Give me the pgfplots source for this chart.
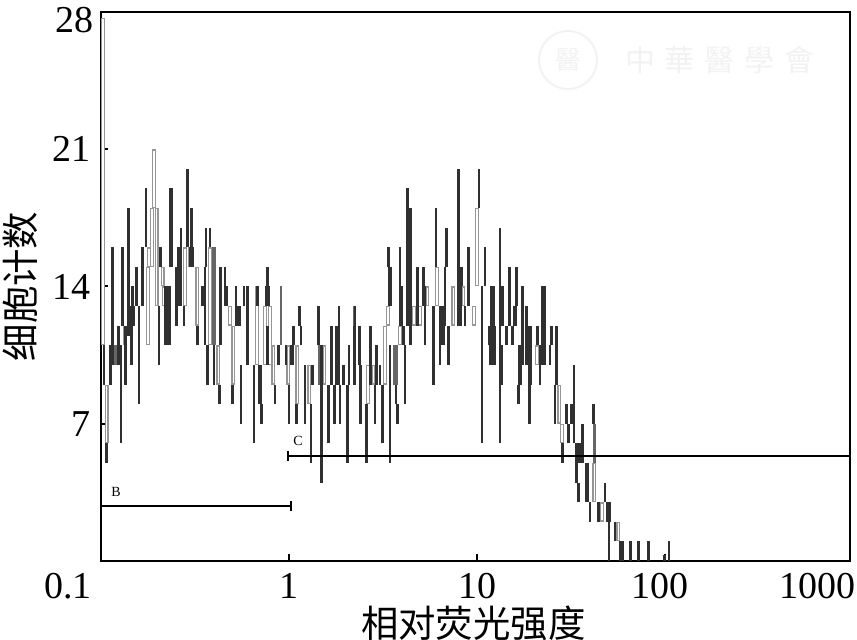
\documentclass[border=0pt]{standalone}
\usepackage{pgfplots}
\usepackage{pgfplotstable}
\usepackage{fontspec}
\pgfplotsset{compat=1.18}
\setmainfont{Liberation Serif}
\newfontfamily\cjk{Noto Sans CJK SC}
\definecolor{dk}{HTML}{303030}
\definecolor{gy}{HTML}{666666}
\definecolor{hl}{HTML}{969696}
\definecolor{wm}{HTML}{F2F2F2}
% x is the position along the 4-decade log axis (101 = 0.1, 289 = 1, 477 = 10, 665 = 100, 850 = 1000)
\pgfplotstableread{
x lo hi
104 9 11
106.7 5 6
110.7 9 11
112.7 10 16
118.3 10 12
121 6 11
122.7 12 16
125.7 9 12
128.3 11.5 18
131.7 10 13
132.7 13 14
132.5 12 13
134 12 13
136.7 13 15
139 8 13
142.3 13 16
146 16 19
159 10 13
160.7 15 16
165 11 14
167.3 11 14
169.7 11 14
170.5 15 19
172 15 19
176.7 12 15
178.5 13 16
180.5 13 16
181 16 17
184 12 13
187.3 16 20
190.5 15 16
192.3 15 16
191.7 16 18
197.3 11 12
202 13 14
204.5 13 14
205 11 15
206 15 17
207.3 9 11
210 16 17
214 9 11
219.3 8 9
220.7 11 15
225 13 15
226.7 13 14
232.7 8 9
236 12 14
237.5 12 13
239.5 12 13
241 7 10
244 13 14
247.7 10 14
254 6 10
257.3 13 14
259 8 10
261 8 10
261.7 7 8
266.5 13 14
268.5 13 14
267.3 14 15
267.3 10 12
275 8 9
278.3 10 11
286 10 11
289 7 9
291 10 11
293 10 11
293.3 11 12
296.5 7 8
299.3 12 13
301 11 12
305 7 10
311 5 8
312.7 9 10
318.3 11 13
321.7 4 11
328.7 6 9
331.7 9 12
334.3 7 9
336.5 9 12
338.5 9 12
339 12 13
340 7 9
343.3 9 10
347.7 5 9
349 9 11
354.3 9 12
355 12 13
359.3 10 12
360.7 7 10
366.7 5 8
370.7 9 12
375 7 9
376.7 9 11
380 9 10
382.7 6 9
388.3 15 16
389 13 15
391 13 15
390 5 11
396 8 9
397.3 7 8
400 12 16
401.7 12 14
403.3 11 12
405 8 11
407.3 12 19
410.7 11 18
417.7 12 15
423.3 13 15
425 11 14
433.3 9 13
436 15 18
440 10 13
441.5 11 13
444 11 13
445 12 15
446.7 15 17
448.3 10 12
458.3 12 20
460 14 15
462 14 15
460.7 12 14
465 12 13
468.7 13 16
479 18 20
482 6 14
485 14 16
489 11 12
490 10 12
491.7 10 14
494 10 14
495 10 12
500 6 17
501.7 9 11
502.3 12 14
506.7 11 12
509.3 12 15
512.7 11 12
514.5 12 13
516 12 13
516.7 13 15
518.3 8 9
519.5 9 11
521 9 11
522.7 10 14
526.7 10 13
529.3 7 9
529 9 12
531 9 12
537.3 11 12
540 9 11
542.5 10 14
544.5 10 14
550 10 11
551.7 11 12
555 7 9
556.7 9 12
562.7 5 6
566.7 7 8
568.3 6 7
571.7 7 8
574 6 10
576.7 4 6
578 5 6
580 5 6
578.3 3 4
582.7 5 7
585.8 3 5
587.6 3 5
590 2 3
593.3 7 8
598.3 2 3
605 3 4
607.5 2 3
609.5 2 3
609 0 2
615 1 2
620.7 0 1
622.7 0 1
630.7 0 1
638.3 0 1
648.3 0 1
664.3 0 0.3
669 0 1
}\tableDark
\pgfplotstableread{
x lo hi
115 10 11
117 10 11
120 10 11
213 11 16
215 11 16
281 11 14
319.3 9 11
354.8 11 13
394 9 11
396.5 9 11
594.3 5 7
}\tableGrey
\pgfplotstableread{
x lo hi
103.3 11 27.7
106.7 6 9
125 11 12
148.3 11 15
149 15 16
152.3 15 18
154 18 21
156.7 13 18
162.7 14 15
164 13 14
185 13 16
190 15 16
197.3 12 15
210 11 16
218.3 9 11
230 12 13
233.3 9 12
256.7 10 14
265 10 13
270 10 13
273.3 9 11
288.3 9 11
297.3 8 11
309.3 8 10
324.3 9 11
368 8 10
373.3 9 10
385 9 12
387.7 12 13
400 11 12
414 12 13
420 12 13
427.3 13 14
436.7 13 15
453.3 12 14
463.3 13 14
474 12 13
476.7 14 18
536.7 10 11
559.3 7 9
561.7 6 7
594.3 3 5
601.7 2 3
618.3 1 2
}\tableHollow
\pgfplotstableread{
x y
101 2.8
291 2.8
}\gateB
\pgfplotstableread{
x y
288 5.36
850 5.36
}\gateC
\begin{document}
\begin{tikzpicture}
\path[use as bounding box] (-50.5pt,-39.5pt) rectangle (378pt,280.5pt);
\begin{axis}[
  scale only axis, width=374.5pt, height=274.5pt,
  xmin=101, xmax=850, ymin=0, ymax=28,
  clip mode=individual,
  axis line style={line width=1pt},
  every tick/.style={black, line width=1pt},
  major tick length=3.5pt,
  tick align=inside,
  xtick pos=bottom, ytick pos=left,
  xtick={101,289,477,665,850},
  xticklabels={\makebox[0pt][r]{0.1\hspace{4.5pt}},1,10,\makebox[0pt][r]{100\hspace{-11.5pt}},\makebox[0pt][r]{1000\hspace{-2.5pt}}},
  ytick={0,7,14,21,28},
  yticklabels={,7,14,21,},
  /pgf/number format/assume math mode=true,
  tick label style={font=\fontsize{19}{19}\selectfont},
  x tick label style={yshift=-2.5pt},
  y tick label style={xshift=-1.5pt},
  xlabel={\cjk 相对荧光强度},
  ylabel={\cjk 细胞计数},
  label style={font=\fontsize{18.7}{19}\selectfont},
  xlabel style={at={(axis description cs:0.497,0)},anchor=center,yshift=-31pt},
  ylabel style={at={(axis description cs:0,0.5)},anchor=center,yshift=40.5pt},
]
\node[text=wm,font=\cjk\fontsize{15}{15}\selectfont,anchor=center] at (axis cs:720,25.55) {中\hspace{5pt}華\hspace{5pt}醫\hspace{5pt}學\hspace{5pt}會};
\node[circle,draw=wm,line width=1pt,minimum size=29pt,inner sep=0pt,text=wm,font=\cjk\fontsize{13}{13}\selectfont] at (axis cs:568,25.55) {醫};
\addplot[draw=none,mark=none,forget plot,error bars/.cd,y dir=plus,y explicit,error mark=none,error bar style={line width=2pt,color=hl}]
  table[x=x,y=lo,y error expr=\thisrow{hi}-\thisrow{lo}] {\tableHollow};
\addplot[draw=none,mark=none,forget plot,error bars/.cd,y dir=plus,y explicit,error mark=none,error bar style={line width=0.8pt,color=white}]
  table[x=x,y expr=\thisrow{lo}+0.07,y error expr=\thisrow{hi}-\thisrow{lo}-0.14] {\tableHollow};
\addplot[draw=none,mark=none,forget plot,error bars/.cd,y dir=plus,y explicit,error mark=none,error bar style={line width=1.4pt,color=gy}]
  table[x=x,y=lo,y error expr=\thisrow{hi}-\thisrow{lo}] {\tableGrey};
\addplot[draw=none,mark=none,forget plot,error bars/.cd,y dir=plus,y explicit,error mark=none,error bar style={line width=1.3pt,color=dk}]
  table[x=x,y=lo,y error expr=\thisrow{hi}-\thisrow{lo}] {\tableDark};
\addplot[black,line width=0.8pt,mark=|,mark options={line width=0.8pt,mark size=2.5pt}] table[x=x,y=y] {\gateB};
\addplot[black,line width=0.8pt,mark=|,mark options={line width=0.8pt,mark size=2.5pt}] table[x=x,y=y] {\gateC};
\node[font=\fontsize{7}{7}\selectfont] at (axis cs:116,3.5) {B};
\node[font=\fontsize{7}{7}\selectfont] at (axis cs:298,6.1) {C};
\node[anchor=east,font=\fontsize{19}{19}\selectfont,inner sep=0pt] at (axis cs:93.5,27.6) {28};
\end{axis}
\end{tikzpicture}
\end{document}
